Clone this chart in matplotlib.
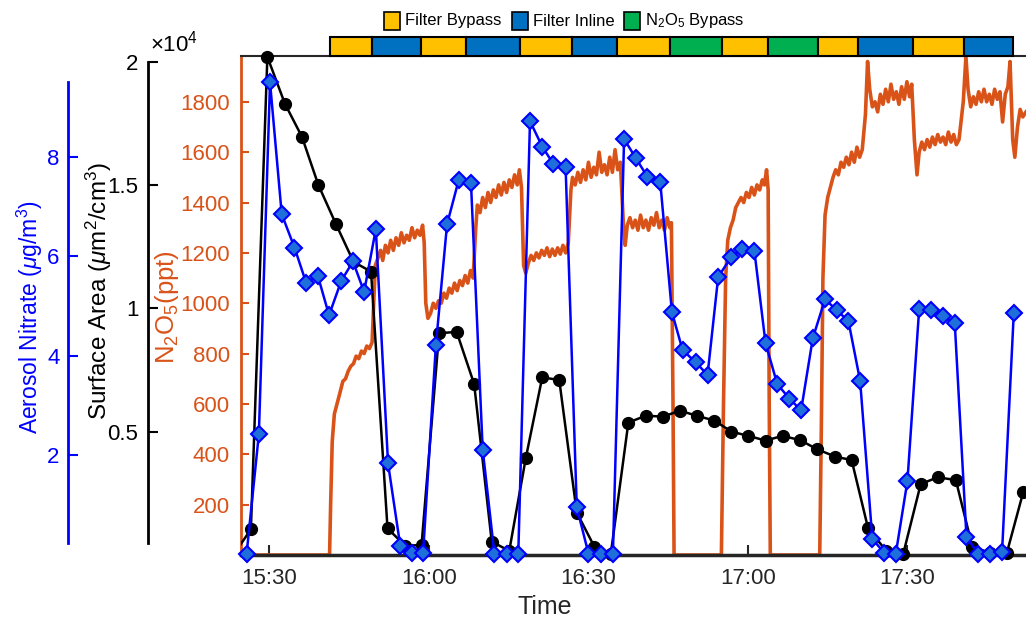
import numpy as np
import matplotlib.pyplot as plt
from matplotlib.patches import Rectangle
from matplotlib.transforms import blended_transform_factory

plt.rcParams['font.family'] = ['Liberation Sans', 'DejaVu Sans']
plt.rcParams['mathtext.fontset'] = 'custom'
plt.rcParams['mathtext.rm'] = 'Liberation Sans'
plt.rcParams['mathtext.it'] = 'Liberation Sans:italic'
plt.rcParams['mathtext.bf'] = 'Liberation Sans:bold'

# all times are minutes after 15:00
n2o5_min = [24.6, 41.3, 41.5, 41.8, 42.2, 42.7, 43.2, 43.8, 44.3, 44.8, 45.3, 45.8, 46.3, 46.8, 47.3, 47.8,
            48.3, 48.8, 49.3, 49.6, 49.9, 50.4, 50.9, 51.3, 51.8, 52.3, 52.8, 53.3, 53.8, 54.3, 54.8, 55.3,
            55.8, 56.3, 56.8, 57.3, 57.8, 58.3, 58.8, 59.1, 59.4, 59.8, 60.3, 60.8, 61.3, 61.8, 62.3, 62.8,
            63.3, 63.8, 64.3, 64.8, 65.3, 65.8, 66.3, 66.8, 67.3, 67.8, 68.3, 68.8, 69.1, 69.6, 70.1, 70.6,
            71.1, 71.6, 72.1, 72.6, 73.1, 73.6, 74.1, 74.6, 75.1, 75.6, 76.1, 76.6, 77.0, 77.4, 77.8, 78.2,
            78.7, 79.2, 79.7, 80.2, 80.7, 81.2, 81.7, 82.2, 82.7, 83.2, 83.7, 84.2, 84.7, 85.2, 85.7, 86.2,
            86.7, 87.0, 87.5, 88.0, 88.5, 89.0, 89.5, 90.0, 90.5, 91.0, 91.5, 92.0, 92.5, 93.0, 93.5, 94.0,
            94.5, 95.0, 95.5, 96.0, 96.6, 96.9, 97.3, 97.8, 98.3, 98.8, 99.3, 99.8, 100.3, 100.8, 101.3, 101.8,
            102.3, 102.8, 103.3, 103.8, 104.3, 104.8, 105.3, 105.6, 105.9, 106.1, 115.0, 115.4, 115.8, 116.2,
            116.7, 117.2, 117.7, 118.2, 118.7, 119.2, 119.7, 120.2, 120.7, 121.2, 121.7, 122.2, 122.7, 123.1,
            123.5, 123.8, 124.0, 124.2, 133.5, 133.8, 134.1, 134.5, 135.0, 135.5, 136.0, 136.5, 137.0, 137.5,
            138.0, 138.5, 139.0, 139.5, 140.0, 140.5, 141.0, 141.5, 142.1, 142.5, 142.9, 143.4, 143.9, 144.4,
            144.9, 145.4, 145.9, 146.4, 146.9, 147.4, 147.9, 148.4, 148.9, 149.4, 149.9, 150.4, 150.8, 151.3,
            151.8, 152.2, 152.7, 153.2, 153.7, 154.2, 154.7, 155.2, 155.7, 156.2, 156.7, 157.2, 157.7, 158.2,
            158.7, 159.2, 159.7, 160.5, 161.0, 161.4, 161.9, 162.4, 162.9, 163.4, 163.9, 164.4, 164.9, 165.4,
            165.9, 166.4, 166.9, 167.4, 167.9, 168.4, 168.9, 169.3, 169.8, 170.2, 170.7, 171.2, 171.7, 172.3]
n2o5_ppt = [0, 0, 200, 450, 560, 600, 640, 690, 700, 730, 750, 760, 790, 780, 810, 800,
            830, 820, 845, 1000, 1150, 1180, 1210, 1170, 1230, 1200, 1250, 1210, 1260, 1230, 1280, 1240,
            1270, 1250, 1300, 1260, 1290, 1270, 1310, 1240, 1000, 940, 960, 1000, 980, 1010, 1000, 1040,
            1020, 1060, 1040, 1080, 1050, 1090, 1070, 1110, 1080, 1130, 1100, 1300, 1390, 1360, 1420, 1380,
            1440, 1400, 1450, 1420, 1470, 1430, 1480, 1440, 1490, 1460, 1510, 1470, 1530, 1460, 1150, 1120,
            1160, 1190, 1170, 1200, 1180, 1210, 1190, 1220, 1185, 1215, 1190, 1220, 1195, 1230, 1200, 1240,
            1450, 1500, 1470, 1520, 1480, 1530, 1490, 1560, 1500, 1540, 1510, 1600, 1520, 1550, 1510, 1580,
            1520, 1610, 1530, 1560, 1300, 1230, 1310, 1340, 1300, 1330, 1290, 1350, 1300, 1330, 1290, 1340,
            1310, 1360, 1300, 1330, 1290, 1340, 1300, 1320, 600, 0, 0, 600, 1100, 1250,
            1300, 1330, 1380, 1400, 1420, 1400, 1440, 1420, 1460, 1430, 1470, 1450, 1490, 1470,
            1530, 1450, 600, 0, 0, 500, 1100, 1350, 1420, 1460, 1500, 1530, 1510, 1560,
            1540, 1580, 1550, 1600, 1560, 1620, 1580, 1610, 1750, 1960, 1850, 1780, 1800, 1760,
            1830, 1790, 1850, 1800, 1870, 1810, 1840, 1790, 1860, 1810, 1880, 1820, 1870, 1650,
            1510, 1600, 1640, 1610, 1650, 1620, 1660, 1630, 1670, 1640, 1660, 1630, 1680, 1640,
            1670, 1630, 1650, 1800, 1980, 1850, 1780, 1820, 1790, 1840, 1800, 1850, 1800, 1830,
            1790, 1850, 1810, 1840, 1720, 1830, 1860, 1960, 1650, 1580, 1700, 1770, 1740, 1760]

sa_min = [23.2, 26.5, 29.6, 32.9, 36.1, 39.2, 42.5, 45.8, 49.1, 52.2, 55.5, 58.6, 61.9, 65.2, 68.5, 71.8,
          75.1, 78.2, 81.3, 84.5, 87.8, 91.1, 94.2, 97.5, 100.8, 104.0, 107.2, 110.5, 113.7, 116.9, 120.1,
          123.3, 126.5, 129.8, 133.0, 136.4, 139.5, 142.6, 146.0, 149.2, 152.5, 155.7, 159.1, 162.2, 165.5,
          168.7, 171.8]
sa_um2cm3 = [0, 1040, 20200, 18300, 16960, 15000, 13420, 11890, 11490, 1080, 380, 400, 8990, 9050, 6930, 540,
             170, 3920, 7200, 7100, 1720, 340, 40, 5370, 5650, 5610, 5850, 5640, 5450, 5000, 4830,
             4640, 4830, 4660, 4290, 3990, 3850, 1080, 170, 40, 2880, 3150, 3040, 340, 90,
             90, 2570]

no3_min = [23.5, 25.7, 28.0, 30.1, 32.3, 34.7, 36.9, 39.1, 41.2, 43.5, 45.7, 47.8, 50.0, 52.3, 54.6, 56.8,
           58.9, 61.3, 63.4, 65.6, 67.9, 70.1, 72.3, 74.6, 76.8, 79.0, 81.3, 83.4, 85.7, 87.8, 90.0,
           92.3, 94.6, 96.7, 98.9, 101.1, 103.5, 105.7, 107.7, 110.2, 112.4, 114.4, 116.8, 118.9, 121.2,
           123.3, 125.5, 127.8, 130.0, 132.2, 134.5, 136.7, 138.9, 141.1, 143.4, 145.6, 147.8, 150.0, 152.2,
           154.4, 156.6, 158.9, 161.1, 163.3, 165.5, 167.8, 170.0]
no3_ugm3 = [0.03, 0.03, 2.43, 9.50, 6.85, 6.18, 5.47, 5.61, 4.82, 5.51, 5.90, 5.29, 6.55, 1.84, 0.18, 0.05,
            0.05, 4.22, 6.65, 7.54, 7.48, 2.12, 0.03, 0.03, 0.03, 8.72, 8.21, 7.86, 7.79, 0.96, 0.03,
            0.03, 0.03, 8.36, 7.98, 7.60, 7.50, 4.88, 4.12, 3.87, 3.62, 5.59, 5.98, 6.16, 6.12,
            4.26, 3.44, 3.14, 2.91, 4.36, 5.14, 4.92, 4.70, 3.50, 0.32, 0.05, 0.02, 1.49, 4.94,
            4.92, 4.80, 4.66, 0.37, 0.02, 0.03, 0.07, 4.86]

mode_edges = [41.4, 49.3, 58.5, 67.0, 77.1, 86.9, 95.4, 105.3, 115.1, 123.8, 133.2, 140.7, 151.0, 160.6, 169.8]
mode_names = ['Filter Bypass', 'Filter Inline', 'Filter Bypass', 'Filter Inline', 'Filter Bypass',
              'Filter Inline', 'Filter Bypass', 'N2O5 Bypass', 'Filter Bypass', 'N2O5 Bypass',
              'Filter Bypass', 'Filter Inline', 'Filter Bypass', 'Filter Inline']
mode_labels = {'Filter Bypass': 'Filter Bypass', 'Filter Inline': 'Filter Inline',
               'N2O5 Bypass': r'N$_2$O$_5$ Bypass'}
mode_colors = {'Filter Bypass': '#FFC000', 'Filter Inline': '#0070C0', 'N2O5 Bypass': '#00B050'}

tick_min = [30, 60, 90, 120, 150]
tick_lbl = ['15:30', '16:00', '16:30', '17:00', '17:30']

ORANGE = '#D95319'
BLUE = '#0000FF'
W, H = 1026, 620


def fx(x):
    return x / W


def fy(y):
    return 1 - y / H


fig = plt.figure(figsize=(W / 100, H / 100), dpi=100)
ax = fig.add_axes([fx(241), fy(555), (1026 - 241) / W, (555 - 56) / H])
ax.set_xlim(24.64, 172.3)

# N2O5 (base axes)
ax.plot(n2o5_min, n2o5_ppt, color=ORANGE, lw=2.6, zorder=2)
ax.set_ylim(0, 1982)
ax.set_yticks(range(200, 1801, 200))
ax.tick_params(axis='y', direction='in', length=6, width=1.5, colors=ORANGE, labelsize=16, pad=8)
ax.set_xticks(tick_min)
ax.set_xticklabels(tick_lbl)
ax.tick_params(axis='x', direction='in', length=7, width=1.5, labelsize=16, pad=9, colors='#262626')
ax.spines['left'].set_color(ORANGE)
ax.spines['left'].set_linewidth(2)
ax.spines['right'].set_visible(False)
ax.spines['bottom'].set_linewidth(2.5)
ax.spines['bottom'].set_color('#262626')
ax.spines['top'].set_linewidth(1.5)
ax.spines['top'].set_color('#262626')

# Surface area
ax2 = ax.twinx()
ax2.set_ylim(0, 20235)
sa_t = np.array(sa_min)
sa_v = np.array(sa_um2cm3)
ax2.plot(sa_t, sa_v, color='black', lw=1.8, zorder=3)
inside = sa_t >= 24.64
ax2.plot(sa_t[inside], sa_v[inside], ls='none', marker='o', ms=8.5, color='black', clip_on=False, zorder=3)

# Aerosol nitrate
ax3 = ax.twinx()
ax3.set_ylim(0, 10.03)
no_t = np.array(no3_min)
no_v = np.array(no3_ugm3)
ax3.plot(no_t, no_v, color=BLUE, lw=1.8, zorder=4)
inside = no_t >= 24.64
ax3.plot(no_t[inside], no_v[inside], ls='none', marker='D', ms=7.8, mfc='#1E6FD9', mec=BLUE, mew=1.5,
         clip_on=False, zorder=4)

for a, pos, col, lo, hi in [(ax2, -93 / 785, 'black', 490, 20000), (ax3, -173 / 785, BLUE, 0.24, 9.5)]:
    for s in ['top', 'bottom', 'right']:
        a.spines[s].set_visible(False)
    a.spines['left'].set_visible(True)
    a.spines['left'].set_position(('axes', pos))
    a.spines['left'].set_color(col)
    a.spines['left'].set_linewidth(2)
    a.spines['left'].set_bounds(lo, hi)
    a.yaxis.set_ticks_position('left')
    a.yaxis.set_label_position('left')

ax2.set_yticks([5000, 10000, 15000, 20000])
ax2.set_yticklabels(['0.5', '1', '1.5', '2'])
ax2.tick_params(axis='y', direction='in', length=7, width=1.5, colors='black', labelsize=16, pad=7)
ax3.set_yticks([2, 4, 6, 8])
ax3.tick_params(axis='y', direction='in', length=7, width=1.5, colors=BLUE, labelsize=16, pad=6)

# axis labels
fig.text(fx(30), fy(317), r'Aerosol Nitrate ($\mu$g/m$^3$)', color=BLUE, fontsize=16.5,
         rotation=90, ha='center', va='center')
fig.text(fx(99), fy(291), r'Surface Area ($\mu$m$^2$/cm$^3$)', color='black', fontsize=17.5,
         rotation=90, ha='center', va='center')
fig.text(fx(167), fy(307), r'N$_2$O$_5$(ppt)', color=ORANGE, fontsize=18.5,
         rotation=90, ha='center', va='center')
fig.text(fx(150), fy(44), r'$\times$10$^{4}$', fontsize=16, ha='left', va='center')
fig.text(fx(545), fy(607), 'Time', fontsize=18, ha='center', va='center', color='#262626')

# sampling mode bar above the plot
trans = blended_transform_factory(ax.transData, ax.transAxes)
for i, name in enumerate(mode_names):
    ax.add_patch(Rectangle((mode_edges[i], 1.0), mode_edges[i + 1] - mode_edges[i], 0.038,
                           transform=trans, facecolor=mode_colors[name], edgecolor='black',
                           lw=1.5, clip_on=False, zorder=5))

# mode legend
for x0, name in [(384, 'Filter Bypass'), (512, 'Filter Inline'), (624, 'N2O5 Bypass')]:
    fig.patches.append(Rectangle((fx(x0), fy(30)), 16 / W, 18 / H, transform=fig.transFigure,
                                 facecolor=mode_colors[name], edgecolor='black', lw=1.2))
    fig.text(fx(x0 + 21), fy(21), mode_labels[name], fontsize=12, ha='left', va='center')

fig.savefig('out.png', dpi=100)
